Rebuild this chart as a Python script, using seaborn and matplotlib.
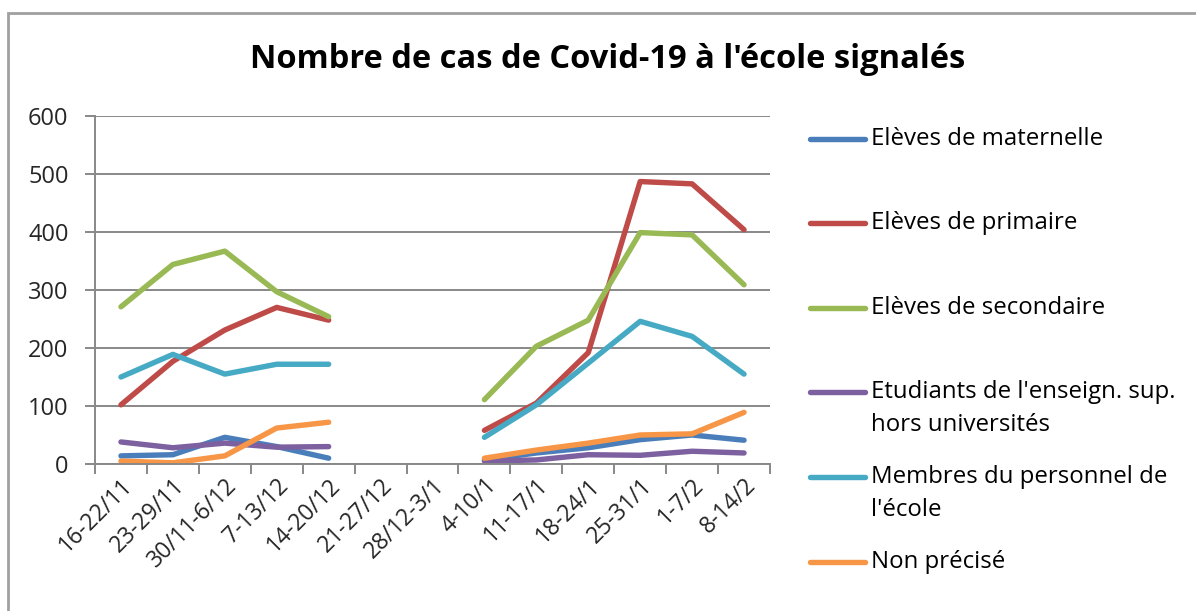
import numpy as np
import pandas as pd
import matplotlib
matplotlib.use("Agg")
import matplotlib.pyplot as plt
from matplotlib.lines import Line2D
from matplotlib.patches import Rectangle
import seaborn as sns

weeks = ["16-22/11", "23-29/11", "30/11-6/12", "7-13/12", "14-20/12", "21-27/12",
         "28/12-3/1", "4-10/1", "11-17/1", "18-24/1", "25-31/1", "1-7/2", "8-14/2"]

series_names = ["Elèves de maternelle", "Elèves de primaire", "Elèves de secondaire",
                "Etudiants de l'enseign. sup.\nhors universités",
                "Membres du personnel de\nl'école", "Non précisé"]

nan = np.nan
maternelle = [14, 16, 46, 30, 10, nan, nan, 7, 19, 28, 42, 50, 41]
primaire = [102, 177, 231, 270, 248, nan, nan, 58, 105, 192, 487, 483, 404]
secondaire = [271, 344, 367, 297, 254, nan, nan, 111, 203, 248, 399, 395, 309]
etudiants = [38, 28, 36, 29, 30, nan, nan, 5, 7, 16, 15, 22, 19]
personnel = [150, 189, 155, 172, 172, nan, nan, 46, 102, 174, 246, 220, 155]
non_precise = [5, 2, 14, 62, 72, nan, nan, 10, 24, 36, 50, 52, 89]

colors = ["#4A7EBB", "#BE4B48", "#98B954", "#7D60A0", "#46AAC5", "#F79646"]

values = [maternelle, primaire, secondaire, etudiants, personnel, non_precise]

rows = []
for name, vals in zip(series_names, values):
    seg = 0
    for i, v in enumerate(vals):
        if np.isnan(v):
            seg = 1
            continue
        rows.append({"x": i, "y": v, "serie": name, "seg": seg})
df = pd.DataFrame(rows)

sns.set_theme(style="white")
plt.rcParams["font.family"] = ["Open Sans", "DejaVu Sans"]

W, H = 1196, 611
fig = plt.figure(figsize=(W / 100, H / 100), dpi=100)
ax = fig.add_axes([95 / W, 1 - 464 / H, (770 - 95) / W, (464 - 116) / H])

sns.lineplot(data=df, x="x", y="y", hue="serie", units="seg", estimator=None,
             palette=dict(zip(series_names, colors)), hue_order=series_names,
             linewidth=3.9, solid_capstyle="round", solid_joinstyle="round",
             legend=False, ax=ax)

grid_c = "#888888"
ax.set_xlim(-0.5, len(weeks) - 0.5)
ax.set_ylim(0, 600)
ax.set_yticks(np.arange(0, 601, 100))
ax.yaxis.grid(True, color=grid_c, linewidth=1.4)
ax.set_axisbelow(True)
ax.set_xticks(np.arange(len(weeks)))
ax.set_xticklabels(weeks, rotation=45, ha="right", va="top", rotation_mode="anchor",
                   fontsize=16.5)
ax.set_xticks(np.arange(-0.5, len(weeks)), minor=True)
ax.tick_params(axis="x", which="major", length=0, pad=7)
ax.tick_params(axis="x", which="minor", length=7, width=1.4, color=grid_c, bottom=True)
ax.tick_params(axis="y", length=7, width=1.4, color=grid_c, left=True, labelsize=17, pad=12)
ax.set_xlabel("")
ax.set_ylabel("")
for s in ["top", "right"]:
    ax.spines[s].set_visible(False)
for s in ["left", "bottom"]:
    ax.spines[s].set_color(grid_c)
    ax.spines[s].set_linewidth(1.4)

fig.text(608 / W, 1 - 59 / H, "Nombre de cas de Covid-19 à l'école signalés",
         ha="center", va="center", fontsize=23.5, fontweight="bold", color="black")

# legend (Excel style: fixed slots, handle aligned with first text line)
leg_y = [139, 223, 308, 392, 477, 562]
for name, c, yy in zip(series_names, colors, leg_y):
    fy = 1 - yy / H
    fig.add_artist(Line2D([810 / W, 865 / W], [fy, fy], color=c, linewidth=3.9,
                          solid_capstyle="round", transform=fig.transFigure))
    for k, ln in enumerate(name.split("\n")):
        fig.text(871 / W, fy - k * 33 / H, ln, ha="left", va="center",
                 fontsize=17.3, color="black")

fig.add_artist(Rectangle((8 / W, -0.1), 1.2, 1.1 - 13 / H, fill=False,
                         edgecolor="#A0A0A0", linewidth=2, transform=fig.transFigure))

fig.savefig("out.png", dpi=100, facecolor="white")
